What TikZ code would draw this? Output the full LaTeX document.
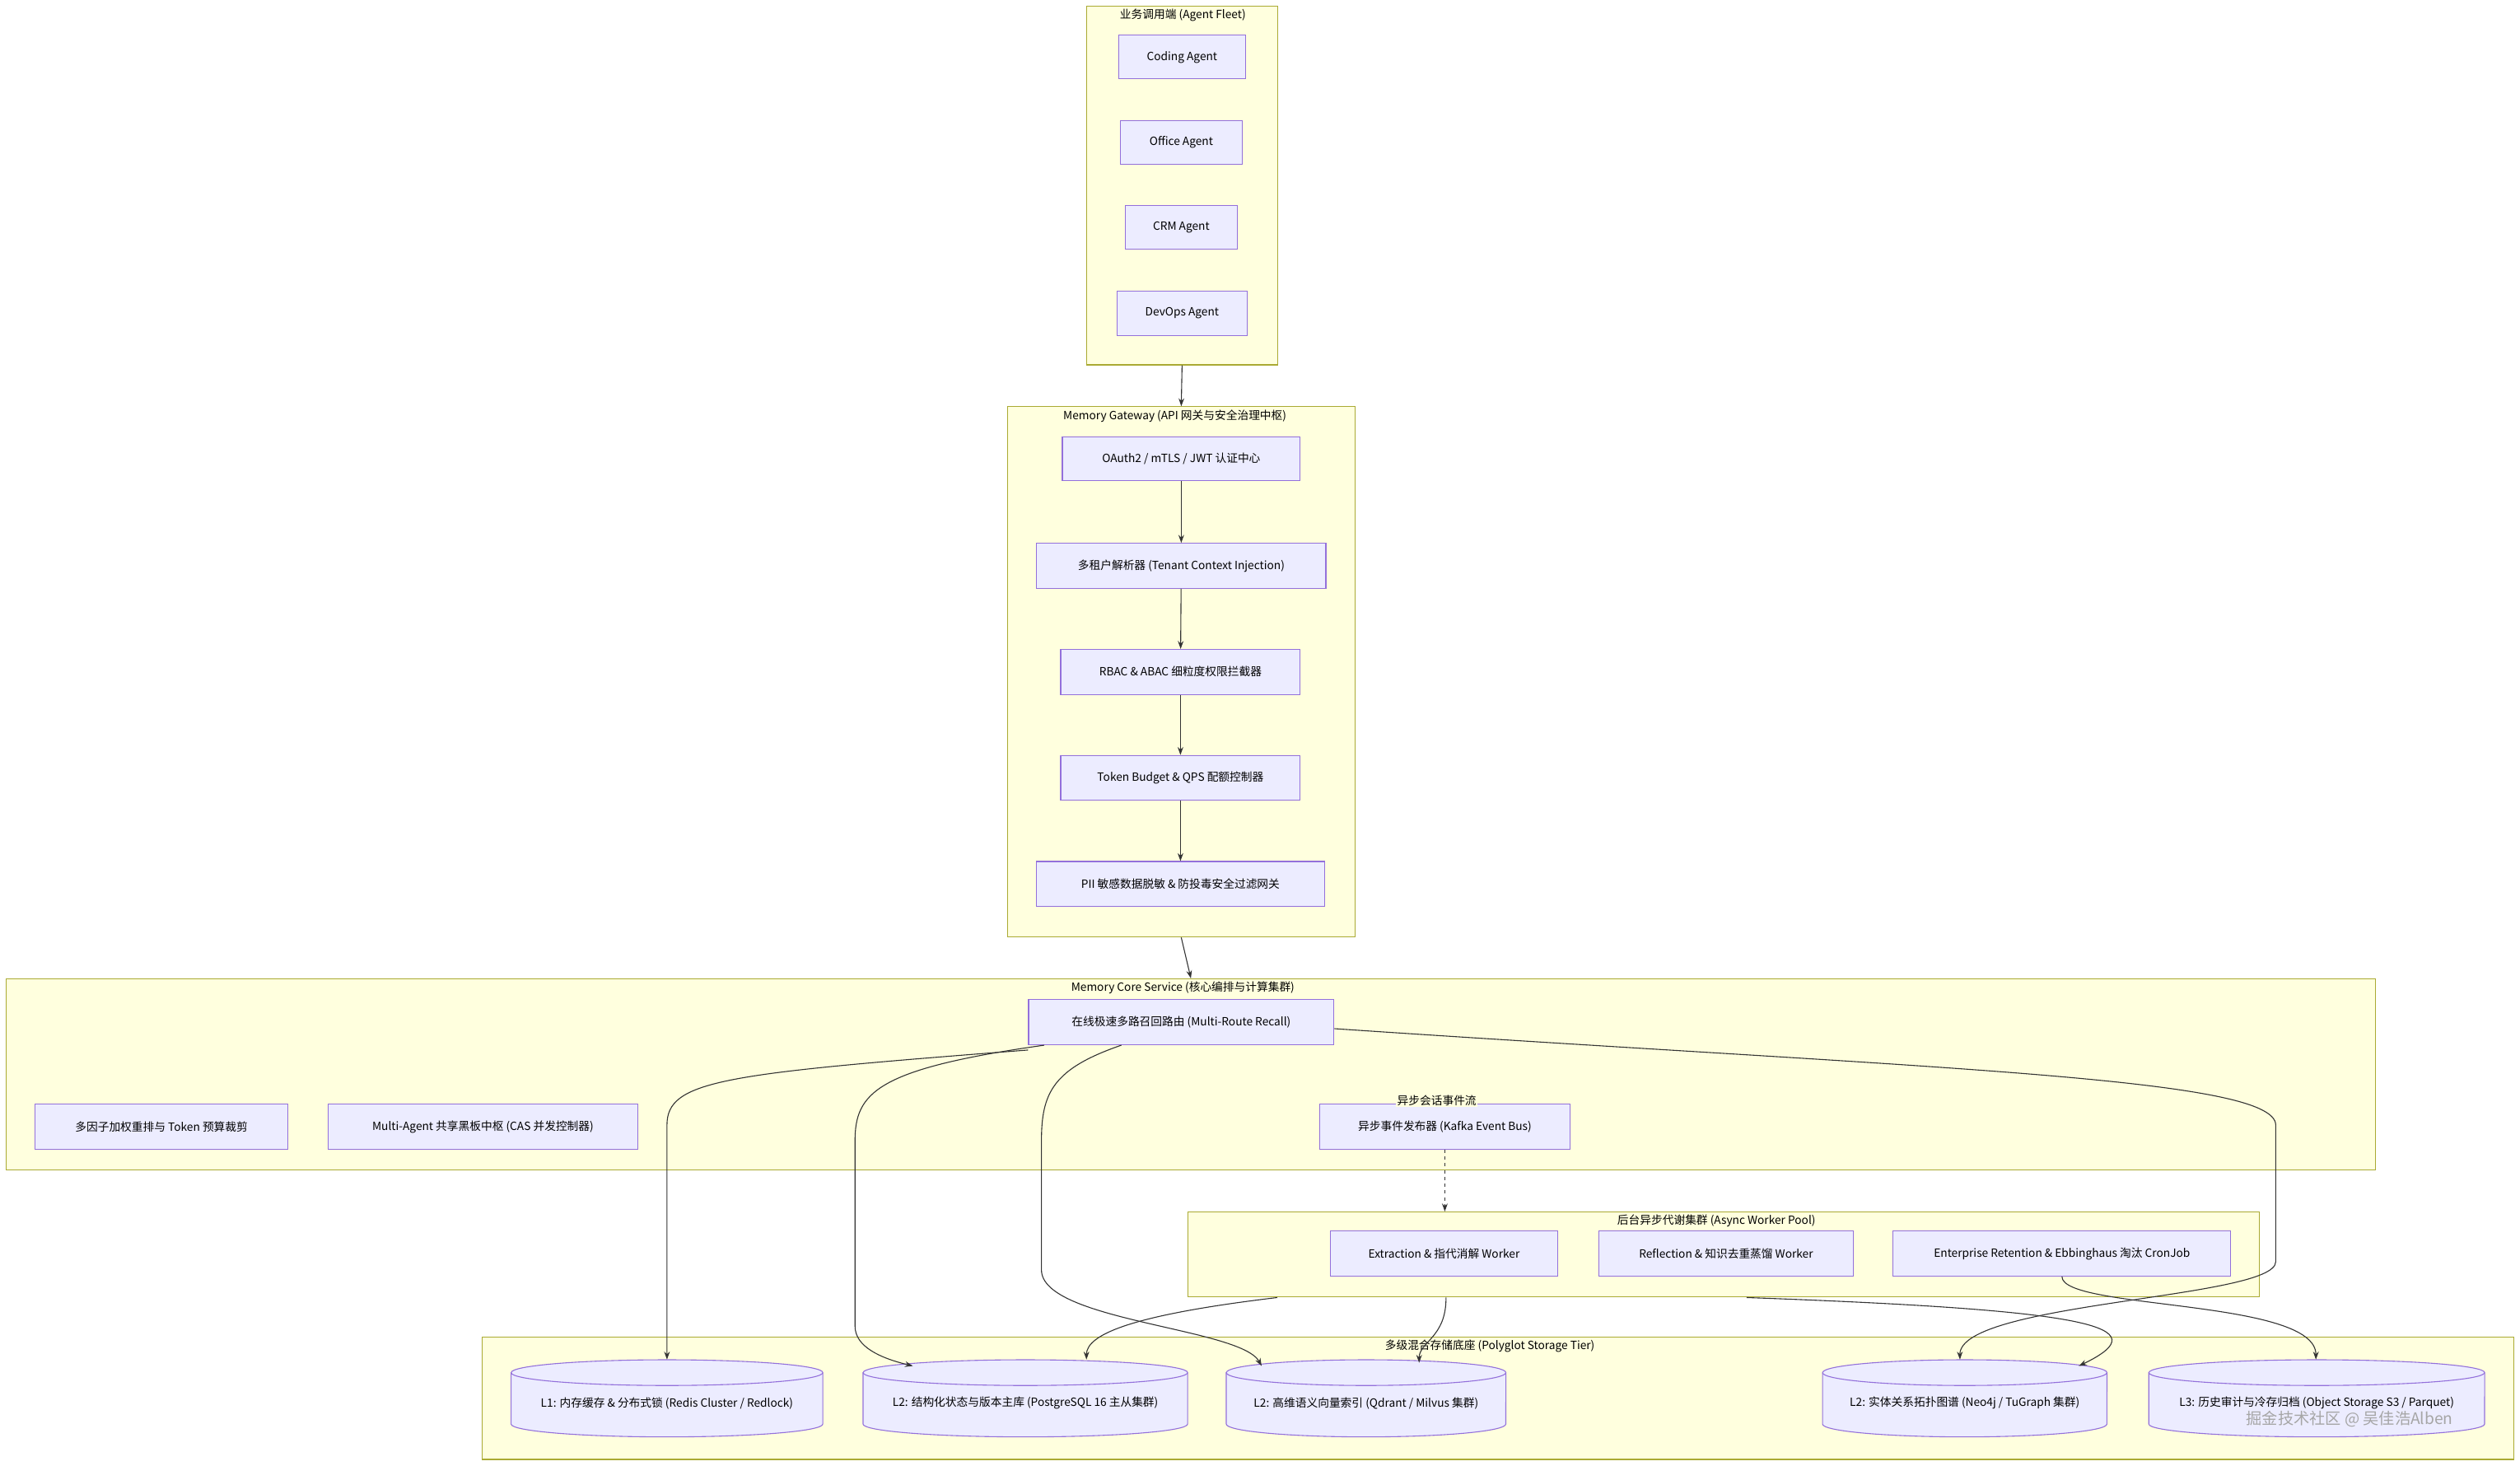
\documentclass[tikz,border=0pt]{standalone}
\usepackage{fontspec}
\setmainfont{Noto Sans CJK SC}
\usetikzlibrary{arrows.meta,calc}
\definecolor{clf}{HTML}{FFFFDE}
\definecolor{cld}{HTML}{AAAA33}
\definecolor{bxf}{HTML}{ECECFF}
\definecolor{bxd}{HTML}{9370DB}
\definecolor{ln}{HTML}{333333}
\tikzset{
  box/.style={draw=bxd,fill=bxf,line width=0.8pt,inner sep=0pt,font=\fontsize{10}{12}\selectfont,text=black},
  clus/.style={draw=cld,fill=clf,line width=0.8pt,inner sep=0pt},
  ctitle/.style={anchor=north,inner sep=1pt,font=\fontsize{10}{12}\selectfont,text=black},
  cylst/.style={draw=bxd,fill=bxf,line width=0.8pt},
  arr/.style={draw=ln,line width=0.8pt,-{Stealth[length=7pt,width=5pt]}},
}
\newcommand\bx[6]{\node[box,minimum width={(#4-#2)*0.05cm},minimum height={(#5-#3)*0.05cm}] (#1) at ({(#2+#4)/2},{(#3+#5)/2}) {#6};}
\newcommand\cl[7]{\node[clus,minimum width={(#4-#2)*0.05cm},minimum height={(#5-#3)*0.05cm}] (#1) at ({(#2+#4)/2},{(#3+#5)/2}) {};
  \node[ctitle] (#1t) at ({#6},{#3+1}) {#7};}
\newcommand\cyl[6]{%
  \draw[cylst] (#2,#3+8) -- (#2,#5-8) arc[start angle=180,end angle=360,x radius={(#4-#2)*0.025cm},y radius=0.4cm] -- (#4,#3+8) arc[start angle=0,end angle=180,x radius={(#4-#2)*0.025cm},y radius=0.4cm] -- cycle;
  \draw[cylst,fill=none] (#2,#3+8) arc[start angle=180,end angle=360,x radius={(#4-#2)*0.025cm},y radius=0.4cm];
  \node[inner sep=0pt,minimum width={(#4-#2)*0.05cm},minimum height={(#5-#3)*0.05cm},font=\fontsize{10}{12}\selectfont] (#1) at ({(#2+#4)/2},{(#3+#5)/2}) {};
  \node[inner sep=0pt,font=\fontsize{10}{12}\selectfont] (#1l) at ({(#2+#4)/2},{(#3+#5)/2+3}) {#6};}
\begin{document}
\begin{tikzpicture}[x=0.05cm,y=-0.05cm]
\useasboundingbox[fill=white] (0,0) rectangle (1568,912);
% clusters
\cl{fleet}{676}{4}{795}{227}{736}{业务调用端 (Agent Fleet)}
\cl{gw}{627}{253}{843}{583}{731}{Memory Gateway (API 网关与安全治理中枢)}
\cl{core}{4}{609}{1478}{728}{736}{Memory Core Service (核心编排与计算集群)}
\cl{pool}{739}{754}{1406}{807}{1068}{后台异步代谢集群 (Async Worker Pool)}
\cl{st}{300}{832}{1564}{908}{927}{多级混合存储底座 (Polyglot Storage Tier)}
% fleet
\bx{coding}{696}{22}{775}{49}{Coding Agent}
\bx{office}{697}{75}{773}{102}{Office Agent}
\bx{crm}{700}{128}{770}{155}{CRM Agent}
\bx{devops}{695}{181}{776}{209}{DevOps Agent}
% gateway
\bx{oauth}{661}{272}{809}{299}{OAuth2 / mTLS / JWT 认证中心}
\bx{tenant}{645}{338}{825}{366}{多租户解析器 (Tenant Context Injection)}
\bx{rbac}{660}{404}{809}{432}{RBAC \& ABAC 细粒度权限拦截器}
\bx{token}{660}{470}{809}{498}{Token Budget \& QPS 配额控制器}
\bx{pii}{645}{536}{824}{564}{PII 敏感数据脱敏 \& 防投毒安全过滤网关}
% core
\bx{mr}{640}{622}{830}{650}{在线极速多路召回路由 (Multi-Route Recall)}
\bx{rerank}{22}{687}{179}{715}{多因子加权重排与 Token 预算裁剪}
\bx{bb}{204}{687}{397}{715}{Multi-Agent 共享黑板中枢 (CAS 并发控制器)}
\bx{kafka}{821}{687}{977}{715}{异步事件发布器 (Kafka Event Bus)}
\node[ctitle,anchor=south,fill=clf] (kafkat) at (894,689) {异步会话事件流};
% workers
\bx{extr}{828}{766}{969}{794}{Extraction \& 指代消解 Worker}
\bx{refl}{995}{766}{1153}{794}{Reflection \& 知识去重蒸馏 Worker}
\bx{ent}{1178}{766}{1388}{794}{Enterprise Retention \& Ebbinghaus 淘汰 CronJob}
% storage
\cyl{l1}{318}{846}{512}{894}{L1: 内存缓存 \& 分布式锁 (Redis Cluster / Redlock)}
\cyl{pg}{537}{846}{739}{894}{L2: 结构化状态与版本主库 (PostgreSQL 16 主从集群)}
\cyl{qd}{763}{846}{937}{894}{L2: 高维语义向量索引 (Qdrant / Milvus 集群)}
\cyl{neo}{1134}{846}{1311}{894}{L2: 实体关系拓扑图谱 (Neo4j / TuGraph 集群)}
\cyl{l3}{1337}{846}{1546}{894}{L3: 历史审计与冷存归档 (Object Storage S3 / Parquet)}
% edges
\draw[arr] (fleet.south) -- (gw.north);
\draw[arr] (oauth) -- (tenant);
\draw[arr] (tenant) -- (rbac);
\draw[arr] (rbac) -- (token);
\draw[arr] (token) -- (pii);
\draw[arr] (gw.south) -- (core.north);
\draw[arr] ($(mr.south west)+(0,3)$) .. controls (450,668) and (415,672) .. (415,700) -- (l1.north);
\draw[arr] ($(mr.south west)+(10,0)$) .. controls (545,665) and (532,680) .. (532,710) -- (532,825) .. controls (532,838) and (548,845) .. ($(pg.north)+(-70,4)$);
\draw[arr] ($(mr.south west)+(58,0)$) .. controls (655,665) and (648,680) .. (648,710) -- (648,790) .. controls (648,822) and (772,826) .. ($(qd.north)+(-65,4)$);
\draw[arr] ($(mr.east)+(0,4)$) .. controls (1200,665) and (1416,670) .. (1416,700) -- (1416,785) .. controls (1416,808) and (1219,810) .. ($(neo.north)+(-3,0)$);
\draw[arr,dashed] (kafka.south) -- (pool.north -| kafka.south);
\draw[arr] ($(pool.south west)+(56,0)$) .. controls (705,818) and (676,830) .. ($(pg.north)+(38,0)$);
\draw[arr] ($(pool.south west)+(161,0)$) .. controls (900,832) and (883,835) .. ($(qd.north)+(33,2)$);
\draw[arr] ($(pool.south west)+(348,0)$) .. controls (1300,815) and (1345,825) .. ($(neo.north)+(71,4)$);
\draw[arr] ($(ent.south)+(0,0)$) .. controls (1283,815) and (1441,808) .. ($(l3.north)+(-0.5,0)$);
% watermark
\node[font=\fontsize{14}{16}\selectfont,text=gray!70,inner sep=0pt] (wm) at (1462,883) {掘金技术社区 @ 吴佳浩Alben};
\end{tikzpicture}
\end{document}
